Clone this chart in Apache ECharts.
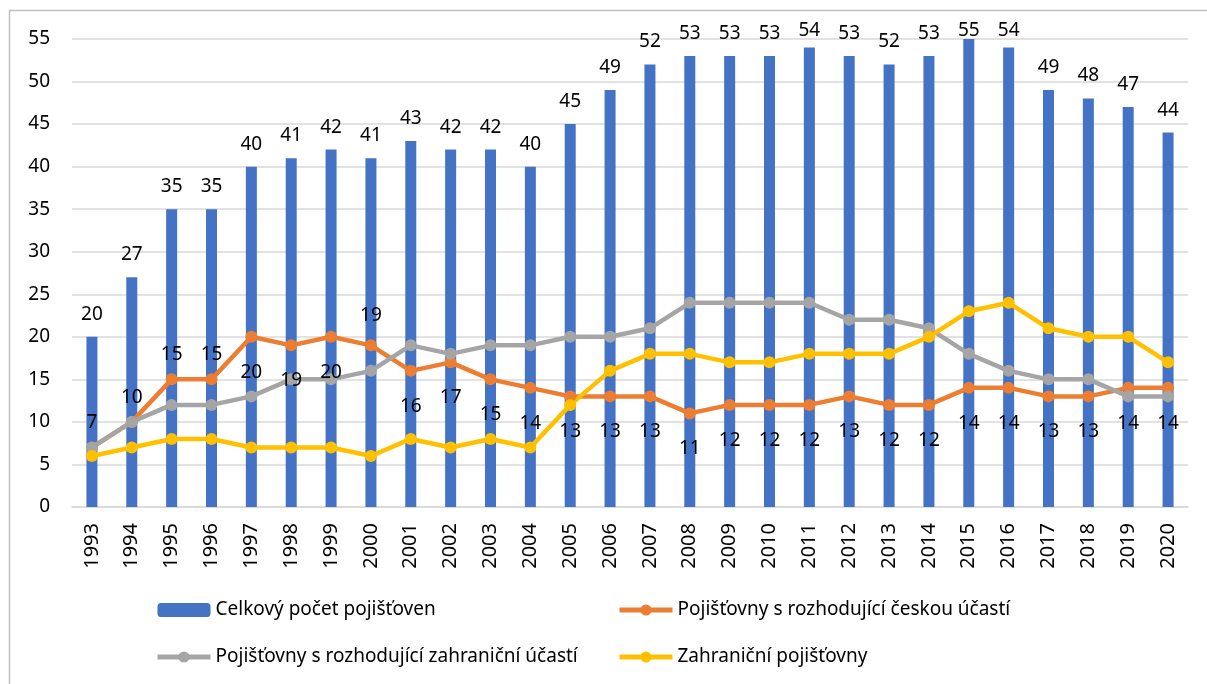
<!DOCTYPE html>
<html>
<head>
<meta charset="utf-8">
<title>Pojišťovny</title>
<script src="https://cdn.jsdelivr.net/npm/echarts@6/dist/echarts.min.js"></script>
<style>
  html, body { margin: 0; padding: 0; background: #fff; }
  #chart { width: 1207px; height: 684px; }
</style>
</head>
<body>
<div id="chart"></div>
<script>
const years = ["1993", "1994", "1995", "1996", "1997", "1998", "1999", "2000", "2001", "2002",
  "2003", "2004", "2005", "2006", "2007", "2008", "2009", "2010", "2011", "2012",
  "2013", "2014", "2015", "2016", "2017", "2018", "2019", "2020"];
const celkem = [20, 27, 35, 35, 40, 41, 42, 41, 43, 42, 42, 40, 45, 49, 52, 53, 53, 53, 54, 53,
  52, 53, 55, 54, 49, 48, 47, 44];
const ceske = [7, 10, 15, 15, 20, 19, 20, 19, 16, 17, 15, 14, 13, 13, 13, 11, 12, 12, 12, 13,
  12, 12, 14, 14, 13, 13, 14, 14];
const zahrUcast = [7, 10, 12, 12, 13, 15, 15, 16, 19, 18, 19, 19, 20, 20, 21, 24, 24, 24, 24, 22,
  22, 21, 18, 16, 15, 15, 13, 13];
const zahranicni = [6, 7, 8, 8, 7, 7, 7, 6, 8, 7, 8, 7, 12, 16, 18, 18, 17, 17, 18, 18,
  18, 20, 23, 24, 21, 20, 20, 17];

const names = [
  "Celkový počet pojišťoven",
  "Pojišťovny s rozhodující českou účastí",
  "Pojišťovny s rozhodující zahraniční účastí",
  "Zahraniční pojišťovny",
];

const font = "'Noto Sans', sans-serif";
const fs = 19;

// labels of the first years sit above the line, the rest below
const ceskeData = ceske.map((v, i) => {
  if (i < 4) return { value: v, label: { position: "top", distance: 9 } };
  if (i === 7) return { value: v, label: { position: "top", distance: 14 } };
  return v;
});

const chart = echarts.init(document.getElementById("chart"));

const lineSeries = (name, data, color) => ({
  name: name,
  type: "line",
  data: data,
  symbol: "circle",
  symbolSize: 12,
  lineStyle: { width: 4.5, color: color },
  itemStyle: { color: color },
});

const legendItem = (name) => ({ name: name, lineStyle: { width: 5 } });

const legendBase = {
  orient: "vertical",
  top: 594,
  itemWidth: 53,
  itemHeight: 14,
  itemGap: 25,
  lineStyle: { width: 5 },
  textStyle: { fontFamily: font, fontSize: fs, color: "#000", lineHeight: 22 },
};

chart.setOption({
  animation: false,
  textStyle: { fontFamily: font },
  graphic: [
    {
      type: "rect",
      shape: { x: 9.5, y: 10.5, width: 1210, height: 690 },
      style: { fill: "none", stroke: "#bfbfbf", lineWidth: 1.5 },
      silent: true,
    },
  ],
  grid: { left: 72, right: 19, top: 39, bottom: 177 },
  legend: [
    Object.assign({}, legendBase, { left: 150, data: [names[0], legendItem(names[2])] }),
    Object.assign({}, legendBase, { left: 612, data: [legendItem(names[1]), legendItem(names[3])] }),
  ],
  xAxis: {
    type: "category",
    data: years,
    axisLine: { lineStyle: { color: "#d9d9d9", width: 1.5 } },
    axisTick: { show: false },
    axisLabel: {
      rotate: 90,
      margin: 16,
      color: "#000",
      fontSize: 20,
      fontFamily: font,
    },
  },
  yAxis: {
    type: "value",
    min: 0,
    max: 55,
    interval: 5,
    axisLine: { show: false },
    axisTick: { show: false },
    axisLabel: { color: "#000", fontSize: fs, fontFamily: font, margin: 22 },
    splitLine: { lineStyle: { color: "#d9d9d9", width: 1.5 } },
  },
  series: [
    {
      name: names[0],
      type: "bar",
      data: celkem,
      barWidth: 11,
      itemStyle: { color: "#4472C4" },
      label: {
        show: true,
        position: "top",
        distance: 13,
        color: "#000",
        fontSize: fs,
        fontFamily: font,
      },
      // keep the tallest labels inside the chart frame
      labelLayout: (params) => {
        const r = params.labelRect;
        const cy = r.y + r.height / 2;
        if (cy < 31) {
          return { x: r.x + r.width / 2, y: 31, align: "center", verticalAlign: "middle" };
        }
        return {};
      },
    },
    Object.assign(lineSeries(names[1], ceskeData, "#ED7D31"), {
      label: {
        show: true,
        position: "bottom",
        distance: 20,
        color: "#000",
        fontSize: fs,
        fontFamily: font,
      },
    }),
    lineSeries(names[2], zahrUcast, "#A5A5A5"),
    lineSeries(names[3], zahranicni, "#FFC000"),
  ],
});
</script>
</body>
</html>
